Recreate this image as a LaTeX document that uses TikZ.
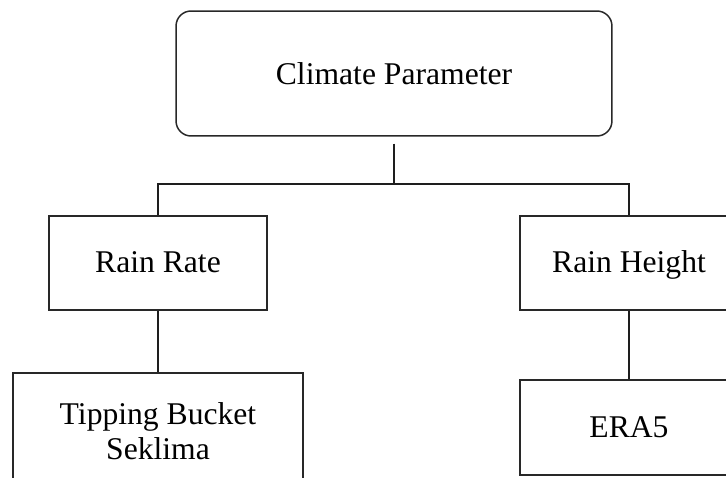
\documentclass[tikz,border=0pt]{standalone}
\usepackage{fontspec}
\setmainfont{Liberation Serif}
\usetikzlibrary{positioning}
\definecolor{boxInk}{RGB}{40,40,40}
\definecolor{linkInk}{RGB}{30,30,30}

\begin{document}
\begin{tikzpicture}[
  x=0.02cm, y=-0.02cm,
  font=\fontsize{18}{20}\selectfont,
  rootbox/.style ={draw=boxInk, line width=.85pt, rounded corners=0.3cm, align=center,
                   minimum width=8.72cm, minimum height=2.5cm, inner sep=0pt},
  parbox/.style  ={draw=boxInk, line width=.85pt, align=center,
                   minimum width=4.36cm, minimum height=1.88cm, inner sep=0pt,
                   text height=14pt, text depth=3pt},
  srcbox/.style  ={draw=boxInk, line width=.85pt, align=center,
                   minimum height=1.9cm, inner sep=0pt},
  link/.style    ={draw=linkInk, line width=1.6pt},
]
\useasboundingbox (0,0) rectangle (726,477);
\path[clip] (0,0) rectangle (726,477);

% ============ ROOT ============
\node[rootbox] (clim) at (394,73.5) {Climate Parameter};
\coordinate (hub) at (394,184);

% ============ PARAMETERS ============
\node[parbox] (rate)   at (158,263) {Rain Rate};
\node[parbox] (height) at (629,263) {Rain Height};

% ============ DATA SOURCES ============
\node[srcbox, minimum width=5.8cm, minimum height=2.32cm] (tip) at (158,431)
  {Tipping Bucket\\Seklima};
\node[srcbox, minimum width=4.36cm] (era) at (629,427.5) {ERA5};

% ============ CONNECTORS ============
\draw[link] ([yshift=-7*0.02cm]clim.south) -- (hub);
\draw[link] (rate.north) |- (hub) -| (height.north);
\draw[link] (rate.south) -- (tip.north);
\draw[link] (height.south) -- (era.north);

\end{tikzpicture}
\end{document}
